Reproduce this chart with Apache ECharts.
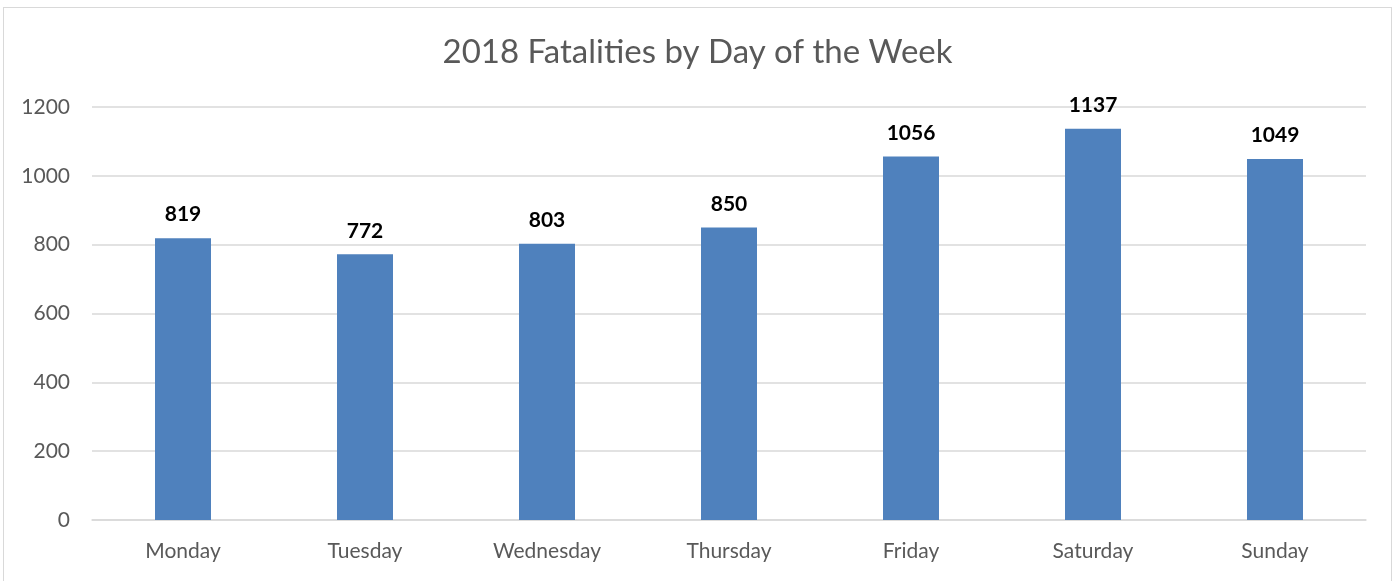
<!DOCTYPE html>
<html>
<head>
<meta charset="utf-8">
<script src="https://cdn.jsdelivr.net/npm/echarts@6/dist/echarts.min.js"></script>
<style>
  html, body { margin: 0; padding: 0; background: #fff; }
  #chart {
    position: absolute;
    left: 3px; top: 7px;
    width: 1389px; height: 580px;
    border: 1px solid #d9d9d9;
    box-sizing: border-box;
  }
</style>
</head>
<body>
<div id="chart"></div>
<script>
const days = ['Monday', 'Tuesday', 'Wednesday', 'Thursday', 'Friday', 'Saturday', 'Sunday'];
const fatalities = [819, 772, 803, 850, 1056, 1137, 1049];

const chart = echarts.init(document.getElementById('chart'));
chart.setOption({
  animation: false,
  title: {
    text: '2018 Fatalities by Day of the Week',
    left: 'center',
    top: 23,
    textStyle: { fontFamily: 'Lato', fontSize: 33, fontWeight: 'normal', color: '#595959' }
  },
  grid: { left: 88, right: 25, top: 99, bottom: 66 },
  xAxis: {
    type: 'category',
    data: days,
    axisLine: { lineStyle: { color: '#d9d9d9', width: 1.5 } },
    axisTick: { show: false },
    axisLabel: { fontFamily: 'Lato', fontSize: 21, color: '#595959', margin: 21 }
  },
  yAxis: {
    type: 'value',
    min: 0,
    max: 1200,
    interval: 200,
    axisLine: { show: false },
    axisTick: { show: false },
    splitLine: { lineStyle: { color: '#d9d9d9', width: 1.5 } },
    axisLabel: { fontFamily: 'Lato', fontSize: 21, color: '#595959', margin: 22, formatter: v => String(v) }
  },
  series: [{
    type: 'bar',
    data: fatalities,
    barWidth: 56,
    itemStyle: { color: '#4f81bd' },
    label: {
      show: true,
      position: 'top',
      distance: 13,
      fontFamily: 'Lato',
      fontSize: 21,
      fontWeight: 'bold',
      color: '#000'
    }
  }]
});
</script>
</body>
</html>
